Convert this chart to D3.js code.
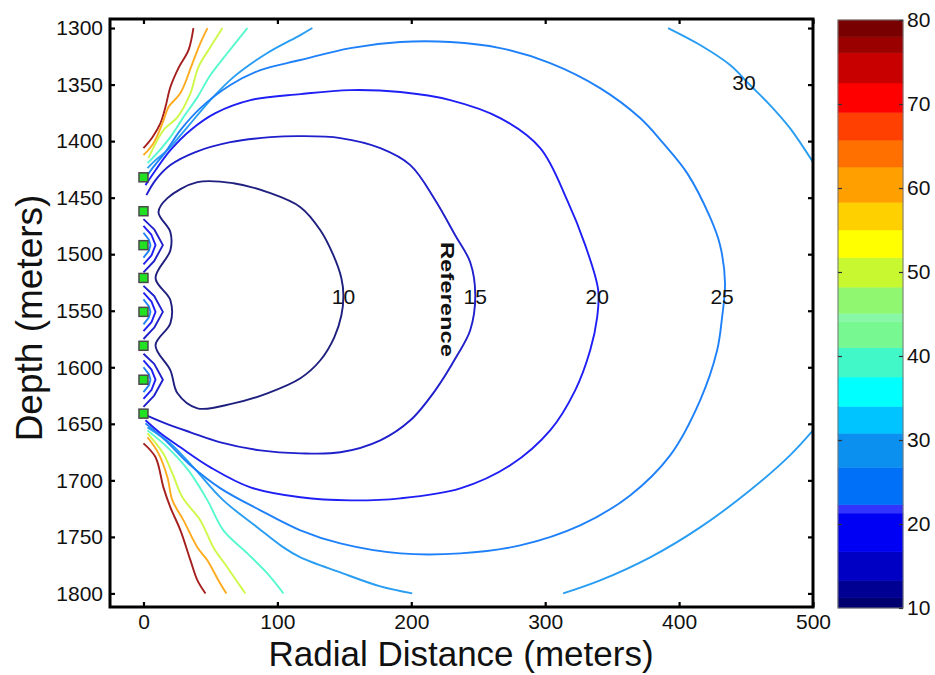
<!DOCTYPE html>
<html><head><meta charset="utf-8">
<script src="https://cdn.jsdelivr.net/npm/d3@7"></script>
<style>body{margin:0;background:#fff} svg{display:block} text{font-family:"Liberation Sans",Arial,sans-serif}</style>
</head><body><svg id="chart" width="935" height="675"></svg>
<script>
// ---------- data ----------
const xTicks = [0, 100, 200, 300, 400, 500];
const yTicks = [1300, 1350, 1400, 1450, 1500, 1550, 1600, 1650, 1700, 1750, 1800];
const cbTicks = [10, 20, 30, 40, 50, 60, 70, 80];
const cbBreaks = [10, 11.2, 13.3, 16.7, 21.3, 22.3, 26.7, 30.8, 34, 37.5, 41, 44.1, 45.1, 48.2, 51.7, 55, 58.3, 62.5, 65.7, 69, 72.5, 76.1, 78, 80];
const cbColors = ["#00006e","#000092","#0000c4","#0000f4","#3434ff","#0070f8","#0c90f0","#00c4ff","#00ffff","#40f8c8","#78f890","#88f8a8","#90f870","#c8f830","#ffff00","#ffd000","#ffa000","#ff7000","#ff4000","#ff0000","#c80000","#9a0000","#780000"];
const perfDepths = [1432, 1462, 1492, 1521, 1551, 1581, 1611, 1641];

// contour polylines: [radial distance m, depth m]
const c10 = [[11.2,1462.8],[17.9,1450.4],[40.3,1436.3],[67.2,1437.2],[92.5,1445.1],[117.2,1458.4],[132.1,1478.8],[141.8,1500.9],[147.8,1521.2],[149.3,1536.3],[147.8,1554.0],[142.5,1573.5],[132.1,1593.8],[117.2,1609.7],[92.5,1623.0],[67.2,1631.9],[40.3,1636.3],[25.4,1623.0],[20.1,1602.7],[9.0,1580.5],[20.1,1561.1],[20.1,1540.7],[9.0,1521.2],[20.1,1496.5],[20.1,1480.5]];
const c15 = [[2.2,1447.8],[9.0,1434.5],[20.1,1421.2],[38.8,1409.7],[64.9,1400.9],[94.8,1396.5],[117.2,1395.6],[147.0,1397.3],[176.9,1406.2],[199.3,1421.2],[217.9,1452.2],[232.8,1483.2],[244.0,1507.1],[247.8,1536.3],[244.0,1567.3],[234.3,1589.4],[217.9,1620.4],[199.3,1646.9],[176.9,1664.6],[147.0,1675.2],[117.2,1676.1],[87.3,1673.5],[57.5,1666.4],[35.1,1657.5],[16.4,1649.6],[2.2,1642.5]];
const c20 = [[1.5,1438.9],[9.0,1425.7],[20.1,1408.0],[35.1,1390.3],[53.7,1375.2],[79.9,1363.7],[117.2,1358.4],[154.5,1354.9],[191.8,1356.6],[229.1,1363.7],[266.4,1379.6],[296.3,1406.2],[316.4,1452.2],[329.9,1492.0],[339.6,1531.9],[338.8,1555.8],[333.6,1585.0],[322.4,1620.4],[303.7,1655.8],[273.9,1686.7],[236.6,1707.1],[191.8,1715.9],[154.5,1717.7],[117.2,1715.0],[79.9,1706.2],[50.0,1688.5],[27.6,1670.8],[12.7,1658.4],[1.5,1646.9]];
const c25 = [[1.5,1432.7],[6.7,1423.9],[16.4,1409.7],[27.6,1390.3],[42.5,1370.8],[64.9,1350.4],[87.3,1337.2],[117.2,1328.3],[154.5,1317.7],[191.8,1312.4],[229.1,1312.4],[266.4,1317.7],[303.7,1331.0],[341.0,1353.1],[370.9,1379.6],[388.1,1401.8],[406.0,1428.3],[423.1,1467.3],[430.6,1492.0],[434.3,1525.7],[432.1,1555.8],[428.4,1585.0],[415.7,1629.2],[393.3,1677.9],[363.4,1713.3],[326.1,1739.8],[281.3,1757.5],[236.6,1764.6],[191.8,1764.6],[147.0,1755.8],[117.2,1744.2],[87.3,1726.5],[57.5,1707.1],[35.1,1686.7],[16.4,1664.6],[1.5,1649.6]];
const c30LeftUp = [[3.0,1423.9],[9.0,1416.8],[17.9,1408.0],[32.8,1387.6],[50.0,1363.7],[67.2,1343.4],[92.5,1322.1],[117.2,1306.2],[126.1,1300]];
const c30LeftLow = [[3.0,1653.1],[20.1,1667.3],[37.3,1688.5],[59.7,1717.7],[85.1,1741.6],[104.5,1759.3],[117.2,1768.1],[147.0,1781.4],[176.9,1793.8],[200.7,1800]];
const c30RightUp = [[391.8,1300],[415.7,1315.0],[438.1,1332.7],[453.0,1350.4],[467.9,1368.1],[482.8,1388.5],[500,1418.6]];
const c30RightLow = [[313.4,1800],[341.0,1788.5],[378.4,1768.1],[415.7,1741.6],[453.0,1708.8],[482.8,1677.9],[500,1655.8]];
const c40Up = [[77.6,1300],[62.7,1322.1],[50.0,1341.6],[40.3,1361.1],[29.9,1378.8],[20.1,1396.5],[7.5,1414.2],[3.0,1419.5]];
const c40Low = [[3.0,1655.8],[17.9,1670.8],[33.6,1691.2],[47.8,1717.7],[59.7,1744.2],[77.6,1764.6],[92.5,1782.3],[104.5,1800]];
const c50Up = [[59.0,1300],[50.0,1316.8],[41.0,1334.5],[35.1,1357.5],[25.4,1378.8],[14.9,1390.3],[3.7,1415.0]];
const c50Low = [[3.0,1658.4],[14.2,1675.2],[21.6,1693.8],[29.1,1715.0],[42.5,1735.4],[52.2,1759.3],[62.7,1777.0],[70.9,1791.2],[76.1,1800]];
const c60Up = [[47.8,1300],[42.5,1313.3],[36.6,1331.0],[27.6,1357.5],[18.7,1369.9],[14.2,1384.1],[7.5,1401.8],[0,1412.4]];
const c60Low = [[3.0,1661.9],[11.2,1676.1],[17.9,1697.3],[21.6,1717.7],[29.9,1735.4],[40.3,1759.3],[47.8,1770.8],[56.0,1788.5],[61.9,1800]];
const c77Up = [[37.3,1300],[33.6,1319.5],[26.1,1335.4],[20.1,1352.2],[16.4,1369.9],[12.7,1384.1],[6.7,1396.5],[0,1406.2]];
const c77Low = [[0,1667.3],[9.0,1679.6],[14.9,1706.2],[20.1,1723.9],[27.6,1744.2],[35.1,1770.8],[40.3,1788.5],[46.3,1800]];
// small arcs between perforations
const arc15 = [
  [[0,1469],[8,1478],[14.5,1492],[8,1506],[0,1516]],
  [[0,1528],[8,1537],[14.5,1551],[8,1565],[0,1575]],
  [[0,1588],[8,1597],[14.5,1611],[8,1625],[0,1635]]];
const arc20 = [
  [[0,1475],[6,1483],[9,1492],[6,1501],[0,1509]],
  [[0,1534],[6,1542],[9,1551],[6,1560],[0,1568]],
  [[0,1594],[6,1602],[9,1611],[6,1620],[0,1628]]];
const arc25 = [
  [[0,1481],[4,1487],[5.2,1492],[4,1497],[0,1503]],
  [[0,1540],[4,1546],[5.2,1551],[4,1556],[0,1562]],
  [[0,1600],[4,1606],[5.2,1611],[4,1616],[0,1622]]];
const contourLabels = [
  {text:"10", r:149.3, d:1537}, {text:"15", r:247.8, d:1537},
  {text:"20", r:338.8, d:1537}, {text:"25", r:432.1, d:1537},
  {text:"30", r:448.5, d:1348}];
const annotation = {text:"Reference", r:226.5, d:1540};

// ---------- build ----------
const contours = [
  {level:77, pts:c77Up}, {level:77, pts:c77Low},
  {level:60, pts:c60Up}, {level:60, pts:c60Low},
  {level:50, pts:c50Up}, {level:50, pts:c50Low},
  {level:40, pts:c40Up}, {level:40, pts:c40Low},
  {level:30, pts:c30LeftUp}, {level:30, pts:c30LeftLow},
  {level:30, pts:c30RightUp}, {level:30, pts:c30RightLow},
  {level:25, pts:c25}, {level:20, pts:c20}, {level:15, pts:c15},
  {level:10, pts:c10, closed:true}
];
arc15.forEach(p => contours.push({level:15, pts:p, small:true}));
arc20.forEach(p => contours.push({level:20, pts:p, small:true}));
arc25.forEach(p => contours.push({level:25, pts:p, small:true}));

const svg = d3.select("#chart");
const FONT = '"Liberation Sans", Arial, sans-serif';
const pL = 110, pR = 813, pT = 19, pB = 607;
const x = d3.scaleLinear().domain([-25, 500]).range([pL, pR]);
const y = d3.scaleLinear().domain([1292, 1812]).range([pT, pB]);
const color = d3.scaleThreshold().domain(cbBreaks.slice(1, -1)).range(cbColors);
const lineColor = lv => d3.interpolateRgb(color(lv), "#ffffff")(0.12);
const fmt = d3.format("d");

svg.append("rect").attr("width", 935).attr("height", 675).attr("fill", "#fff");
svg.append("defs").append("clipPath").attr("id", "plotclip")
  .append("rect").attr("x", pL).attr("y", pT).attr("width", pR - pL).attr("height", pB - pT);

const gLines = svg.append("g").attr("clip-path", "url(#plotclip)");
const lineOpen = d3.line().x(d => x(d[0])).y(d => y(d[1])).curve(d3.curveCatmullRom.alpha(0.5));
const lineClosed = d3.line().x(d => x(d[0])).y(d => y(d[1])).curve(d3.curveCatmullRomClosed.alpha(0.5));
const lineSmall = d3.line().x(d => x(d[0])).y(d => y(d[1])).curve(d3.curveLinear);
contours.forEach(c => {
  gLines.append("path")
    .attr("d", (c.closed ? lineClosed : c.small ? lineSmall : lineOpen)(c.pts))
    .attr("fill", "none")
    .attr("stroke", lineColor(c.level))
    .attr("stroke-width", 1.9)
    .attr("stroke-linejoin", "round");
});

// perforation markers
svg.append("g").selectAll("rect").data(perfDepths).join("rect")
  .attr("x", x(0) - 4.5).attr("y", d => y(d) - 4.5)
  .attr("width", 9).attr("height", 9)
  .attr("fill", "#22e022").attr("stroke", "#4a4a4a").attr("stroke-width", 1.5);

// contour labels
svg.append("g").selectAll("text").data(contourLabels).join("text")
  .attr("x", d => x(d.r)).attr("y", d => y(d.d))
  .attr("text-anchor", "middle").attr("dominant-baseline", "central")
  .attr("font-size", 21).attr("fill", "#111").text(d => d.text);

svg.append("text")
  .attr("transform", `translate(${x(annotation.r)},${y(annotation.d)}) rotate(90)`)
  .attr("text-anchor", "middle").attr("dominant-baseline", "central")
  .attr("font-size", 18).attr("font-weight", "bold").attr("fill", "#111")
  .attr("textLength", 115).attr("lengthAdjust", "spacingAndGlyphs")
  .text(annotation.text);

// axes
function styleAxis(g) {
  g.select(".domain").remove();
  g.selectAll(".tick line").attr("stroke", "#000").attr("stroke-width", 2.2);
  g.selectAll(".tick text").attr("font-family", FONT).attr("font-size", 21).attr("fill", "#111");
}
svg.append("g").attr("transform", `translate(${pL},0)`)
  .call(d3.axisLeft(y).tickValues(yTicks).tickFormat(fmt).tickSize(-5).tickPadding(7)).call(styleAxis);
svg.append("g").attr("transform", `translate(${pR},0)`)
  .call(d3.axisRight(y).tickValues(yTicks).tickSize(-5).tickFormat("")).call(styleAxis);
svg.append("g").attr("transform", `translate(0,${pB})`)
  .call(d3.axisBottom(x).tickValues(xTicks).tickFormat(fmt).tickSize(-5).tickPadding(7)).call(styleAxis);
svg.append("g").attr("transform", `translate(0,${pT})`)
  .call(d3.axisTop(x).tickValues(xTicks).tickSize(-5).tickFormat("")).call(styleAxis);

svg.append("rect").attr("x", pL).attr("y", pT).attr("width", pR - pL).attr("height", pB - pT)
  .attr("fill", "none").attr("stroke", "#000").attr("stroke-width", 3);

// axis titles
svg.append("text").attr("x", 461).attr("y", 666).attr("text-anchor", "middle")
  .attr("font-size", 35).attr("fill", "#111").text("Radial Distance (meters)");
svg.append("text").attr("transform", "translate(42,318) rotate(-90)").attr("text-anchor", "middle")
  .attr("font-size", 37).attr("fill", "#111").text("Depth (meters)");

// colorbar
const cbL = 838, cbR = 903;
const cy = d3.scaleLinear().domain([10, 80]).range([608, 20]);
const gcb = svg.append("g");
gcb.selectAll("rect").data(cbColors).join("rect")
  .attr("x", cbL).attr("width", cbR - cbL)
  .attr("y", (d, i) => cy(cbBreaks[i + 1])).attr("height", (d, i) => cy(cbBreaks[i]) - cy(cbBreaks[i + 1]))
  .attr("fill", d => d).attr("stroke", d => d).attr("stroke-width", 0.5);
gcb.append("rect").attr("x", cbL).attr("y", 20).attr("width", cbR - cbL).attr("height", 588)
  .attr("fill", "none").attr("stroke", "#777").attr("stroke-width", 1);
const cbAxis = svg.append("g").attr("transform", `translate(${cbR},0)`)
  .call(d3.axisRight(cy).tickValues(cbTicks).tickFormat(fmt).tickSize(-4).tickPadding(4));
cbAxis.select(".domain").remove();
cbAxis.selectAll(".tick line").attr("stroke", "#333").attr("stroke-width", 1.2);
cbAxis.selectAll(".tick text").attr("font-family", FONT).attr("font-size", 21).attr("fill", "#111");
svg.append("g").attr("transform", `translate(${cbL},0)`)
  .call(d3.axisLeft(cy).tickValues(cbTicks.slice(1, -1)).tickSize(-4).tickFormat(""))
  .call(g => { g.select(".domain").remove(); g.selectAll(".tick line").attr("stroke", "#333").attr("stroke-width", 1.2); });
</script></body></html>
